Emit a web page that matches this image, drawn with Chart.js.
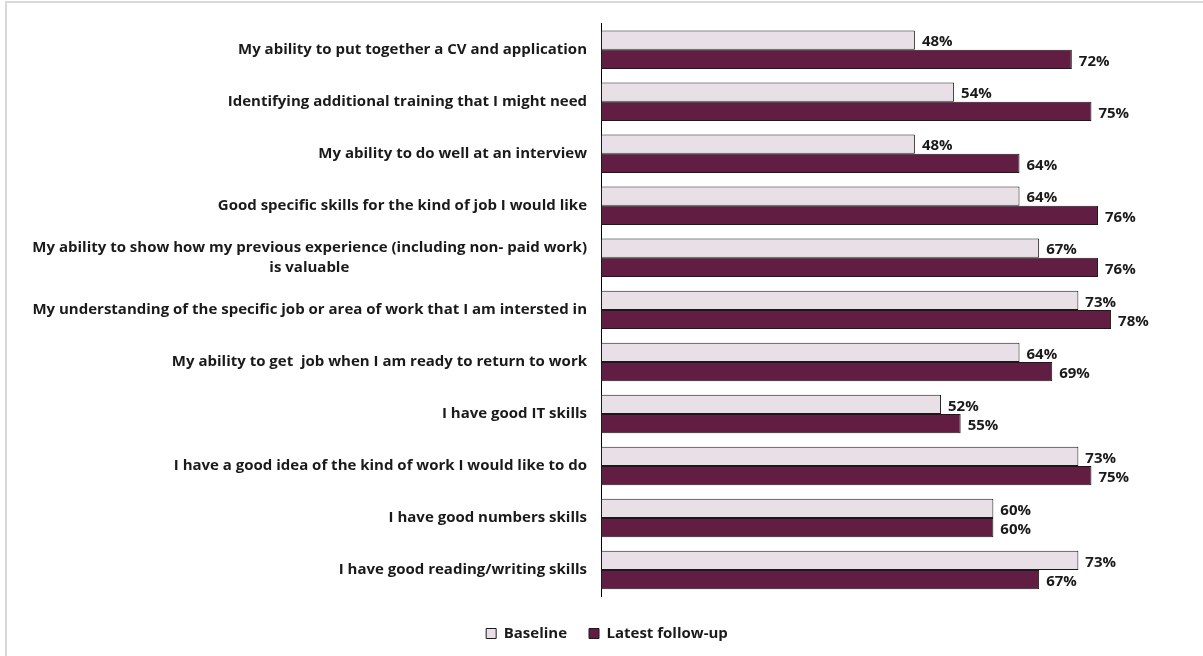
<!DOCTYPE html>
<html>
<head>
<meta charset="utf-8">
<script src="https://cdn.jsdelivr.net/npm/chart.js@4"></script>
<style>
  html, body { margin: 0; padding: 0; background: #fff; }
  #wrap { position: relative; width: 1203px; height: 656px; }
  #frame { position: absolute; left: 5px; top: 1px; width: 1300px; height: 700px;
           border-top: 2px solid #d9d9d9; border-left: 2px solid #d9d9d9; pointer-events: none; }
</style>
</head>
<body>
<div id="wrap">
  <canvas id="chart" width="1203" height="656"></canvas>
  <div id="frame"></div>
</div>
<script>
// categories (top to bottom)
var categories = [
    'My ability to put together a CV and application',
    'Identifying additional training that I might need',
    'My ability to do well at an interview',
    'Good specific skills for the kind of job I would like',
    ['My ability to show how my previous experience (including non- paid work)', 'is valuable'],
    'My understanding of the specific job or area of work that I am intersted in',
    'My ability to get  job when I am ready to return to work',
    'I have good IT skills',
    'I have a good idea of the kind of work I would like to do',
    'I have good numbers skills',
    'I have good reading/writing skills'
];

// values in %
var baseline = [48, 54, 48, 64, 67, 73, 64, 52, 73, 60, 73];
var latestFollowUp = [72, 75, 64, 76, 76, 78, 69, 55, 75, 60, 67];

var FONT = 'bold 15px "Open Sans"';
var labelFont = { family: 'Open Sans', weight: 'bold', size: 15, lineHeight: 1.3 };

// centre the lines of a multi-line label by padding the shorter ones with spaces
var measureCtx = document.createElement('canvas').getContext('2d');
function centreLines(lines) {
    if (!Array.isArray(lines)) return lines;
    measureCtx.font = FONT;
    var widths = lines.map(function(l) { return measureCtx.measureText(l).width; });
    var maxW = Math.max.apply(null, widths);
    var spaceW = measureCtx.measureText(' ').width;
    return lines.map(function(l, i) {
        var n = Math.round((maxW - widths[i]) / 2 / spaceW);
        return l + ' '.repeat(n);
    });
}

// value labels at the end of each bar
var valueLabels = {
    id: 'valueLabels',
    afterDatasetsDraw: function(chart) {
        var ctx = chart.ctx;
        ctx.save();
        ctx.font = FONT;
        ctx.fillStyle = '#1a1a1a';
        ctx.textAlign = 'left';
        ctx.textBaseline = 'middle';
        chart.data.datasets.forEach(function(ds, i) {
            var meta = chart.getDatasetMeta(i);
            meta.data.forEach(function(bar, j) {
                ctx.fillText(ds.data[j] + '%', bar.x + 7, bar.y + 2);
            });
        });
        ctx.restore();
    }
};

document.fonts.load(FONT).then(function() {
    var config = {
        type: 'bar',
        data: {
            labels: categories.map(centreLines),
            datasets: [
                {
                    label: 'Baseline',
                    data: baseline,
                    backgroundColor: '#e9dfe7',
                    borderColor: '#1a1a1a',
                    borderWidth: 1,
                    borderSkipped: false,
                    categoryPercentage: 0.74,
                    barPercentage: 1.0
                },
                {
                    label: 'Latest follow-up',
                    data: latestFollowUp,
                    backgroundColor: '#621d42',
                    borderColor: '#1a1a1a',
                    borderWidth: 1,
                    borderSkipped: false,
                    categoryPercentage: 0.74,
                    barPercentage: 1.0
                }
            ]
        },
        options: {
            indexAxis: 'y',
            responsive: false,
            animation: false,
            layout: {
                padding: { top: 21, right: 20, bottom: 5, left: 31 }
            },
            scales: {
                x: {
                    min: 0,
                    max: 89,
                    grid: { display: false },
                    border: { display: false },
                    ticks: { display: false },
                    afterFit: function(scale) {
                        scale.height = 8;
                    }
                },
                y: {
                    grid: { display: false, drawTicks: false },
                    border: { display: true, color: '#000', width: 1 },
                    ticks: {
                        color: '#1a1a1a',
                        font: labelFont,
                        padding: 14,
                        autoSkip: false
                    },
                    afterFit: function(scale) {
                        scale.width = 570;
                    }
                }
            },
            plugins: {
                tooltip: { enabled: false },
                legend: {
                    position: 'bottom',
                    labels: {
                        color: '#1a1a1a',
                        font: labelFont,
                        boxWidth: 10,
                        boxHeight: 10,
                        padding: 22
                    }
                }
            }
        },
        plugins: [valueLabels]
    };

    new Chart(document.getElementById('chart'), config);
});
</script>
</body>
</html>
